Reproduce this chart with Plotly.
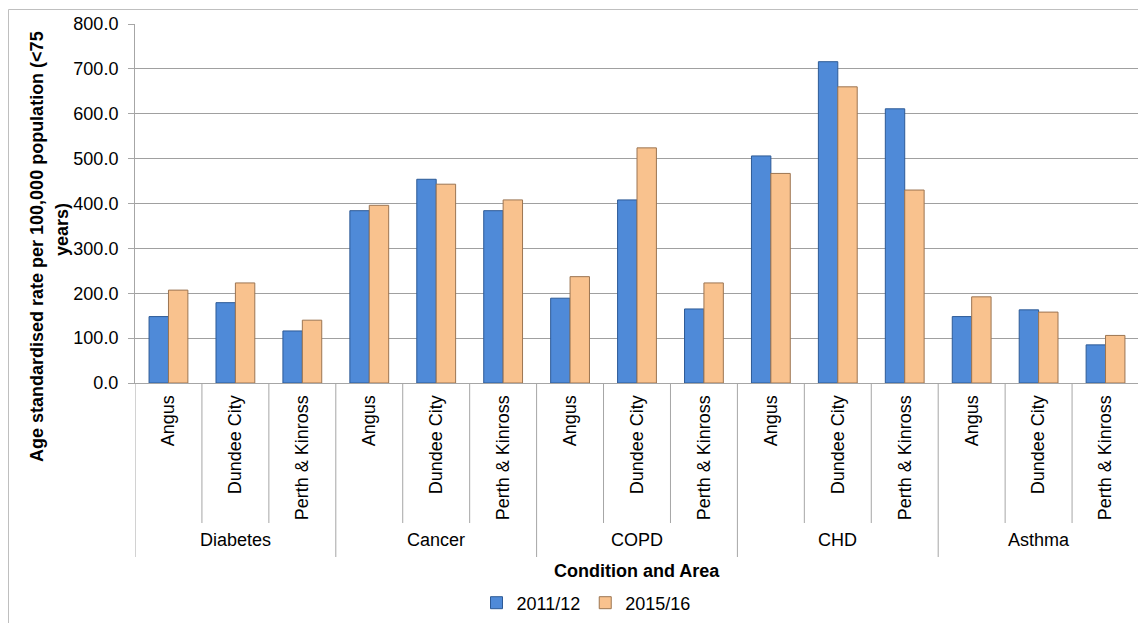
import plotly.graph_objects as go

conditions = ["Diabetes", "Cancer", "COPD", "CHD", "Asthma"]
areas = ["Angus", "Dundee City", "Perth & Kinross"]
series_names = ["2011/12", "2015/16"]
rate_2011 = [148, 179, 116, 384, 454, 384, 189, 408, 165, 506, 716, 611, 148, 163, 85]
rate_2015 = [207, 223, 140, 396, 443, 408, 237, 524, 223, 467, 660, 430, 192, 158, 106]
y_ticks = [0, 100, 200, 300, 400, 500, 600, 700, 800]

cat_labels = [a for c in conditions for a in areas]
xs = list(range(len(cat_labels)))

W, H = 1146, 623
OFF = 8  # page body offset
SX0, SX1, SY0, SY1 = 135, 1139, 24, 383  # plot area on screen
L, T = SX0 - OFF, SY0 - OFF
R = W - (SX1 - OFF)
B = H - (SY1 - OFF)
plot_h = SY1 - SY0
plot_w = SX1 - SX0

def py(sy):  # screen y -> paper y
    return (SY1 - sy) / plot_h

def pxp(sx):  # screen x -> paper x
    return (sx - SX0) / plot_w

font = "Liberation Sans, Arial, sans-serif"
FS = 18

fig = go.Figure()
fig.add_trace(go.Bar(x=xs, y=rate_2011, name=series_names[0],
                     marker=dict(color="#4f8ad8", line=dict(color="#2d5a96", width=1))))
fig.add_trace(go.Bar(x=xs, y=rate_2015, name=series_names[1],
                     marker=dict(color="#f9c28e", line=dict(color="#9c7552", width=1))))

shapes = []
shapes.append(dict(type="rect", xref="paper", yref="paper",
                   x0=pxp(8.5), x1=pxp(1200), y0=py(700), y1=py(9.5),
                   line=dict(color="#bfbfbf", width=1), fillcolor="rgba(0,0,0,0)", layer="above"))
n_area = len(areas)
for i in range(len(cat_labels) + 1):
    xb = i - 0.5
    long = (i % n_area == 0)
    shapes.append(dict(type="line", xref="x", yref="paper", x0=xb, x1=xb,
                       y0=0, y1=py(557 if long else 523),
                       line=dict(color="#a6a6a6", width=1)))

def ann(**kw):
    base = dict(showarrow=False, xanchor="center", yanchor="middle",
                font=dict(size=FS, color="#000", family=font))
    base.update(kw)
    return base

annotations = []
for gi, c in enumerate(conditions):
    center = gi * n_area + (n_area - 1) / 2
    annotations.append(ann(x=center, y=py(540), xref="x", yref="paper", text=c))
annotations.append(ann(x=0.5, y=py(571), xref="paper", yref="paper",
                       text="<b>Condition and Area</b>"))
annotations.append(ann(x=pxp(37), y=py(247), xref="paper", yref="paper", textangle=-90,
                       text="<b>Age standardised rate per 100,000 population (&lt;75</b>"))
annotations.append(ann(x=pxp(62), y=py(230), xref="paper", yref="paper", textangle=-90,
                       text="<b>years)</b>"))

fig.update_layout(
    width=W, height=H,
    margin=dict(l=L, r=R, t=T, b=B, autoexpand=False),
    paper_bgcolor="white", plot_bgcolor="white",
    barmode="group", bargap=0.42, bargroupgap=0,
    font=dict(family=font, size=FS, color="#000"),
    showlegend=True,
    legend=dict(orientation="h", x=pxp(586), xanchor="center", y=py(603), yanchor="middle",
                font=dict(size=FS), itemwidth=30, traceorder="normal"),
    shapes=shapes, annotations=annotations,
    xaxis=dict(range=[-0.5, len(cat_labels) - 0.5], tickvals=xs, ticktext=cat_labels,
               tickangle=-90, showgrid=False, zeroline=False, showline=True, automargin=False,
               linecolor="#a6a6a6", ticks="", tickfont=dict(size=FS), ticklabelstandoff=4),
    yaxis=dict(range=[0, 800], tickvals=y_ticks, tickformat=".1f", automargin=False,
               showgrid=True, gridcolor="#a0a0a0", gridwidth=1, zeroline=False,
               showline=True, linecolor="#a6a6a6", ticks="outside", ticklen=6,
               tickcolor="#a6a6a6", tickfont=dict(size=FS), ticklabelstandoff=6),
)

fig.write_html("out.html")
